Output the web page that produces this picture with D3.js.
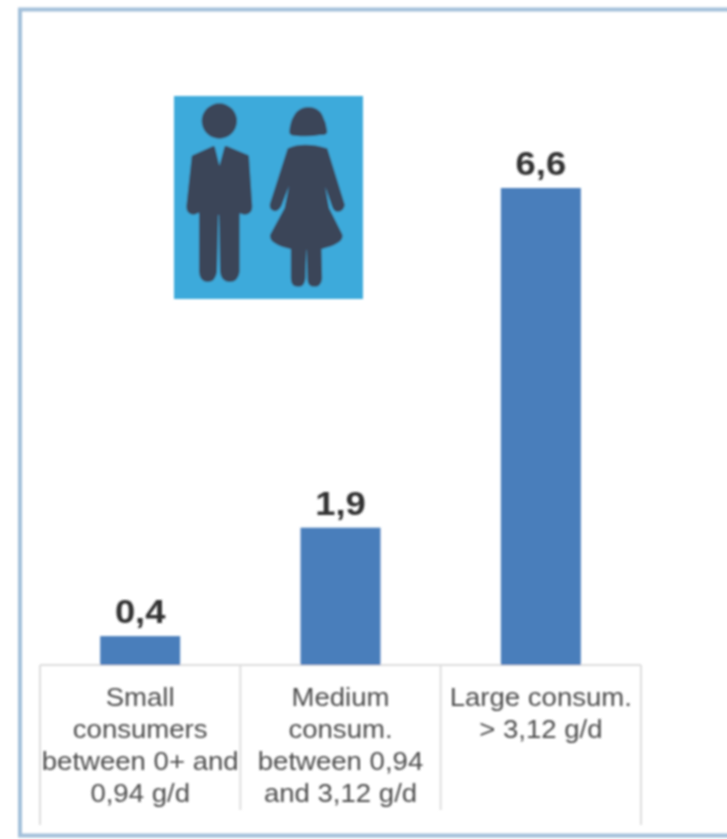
<!DOCTYPE html>
<html><head><meta charset="utf-8">
<script src="https://cdn.jsdelivr.net/npm/d3@7"></script>
<style>html,body{margin:0;padding:0;background:#fff}svg{display:block}
text{font-family:"Liberation Sans",Arial,sans-serif}</style></head>
<body><div id="chart"></div>
<script>
const categories = ["small","medium","large"];
const values = [0.4, 1.9, 6.6];
const valueLabels = ["0,4","1,9","6,6"];
const categoryLines = [
  ["Small","consumers","between 0+ and","0,94 g/d"],
  ["Medium","consum.","between 0,94","and 3,12 g/d"],
  ["Large consum.","> 3,12 g/d"]
];
const W=727,H=839;
const svg=d3.select("#chart").append("svg").attr("width",W).attr("height",H);
const defs=svg.append("defs");
defs.append("filter").attr("id","soft").attr("x","-5%").attr("y","-5%").attr("width","110%").attr("height","110%")
  .append("feGaussianBlur").attr("stdDeviation",0.8);
const root=svg.append("g").attr("filter","url(#soft)");

// outer frame
root.append("path").attr("d","M730,9.5 H20 V835.5 H730").attr("fill","none").attr("stroke","#a3c0da").attr("stroke-width",4);

const x=d3.scaleBand().domain(categories).range([40,641]).paddingInner(0).paddingOuter(0);
const y=d3.scaleLinear().domain([0,6.6]).range([665,188]);
const barW=80;
const cx=c=>x(c)+x.bandwidth()/2;

// axis table
const grid=root.append("g").attr("stroke","#dedede").attr("stroke-width",2).attr("fill","none");
grid.append("line").attr("x1",x.range()[0]).attr("x2",x.range()[1]).attr("y1",y(0)).attr("y2",y(0));
const ticks=[0,1,2,3];
ticks.forEach(i=>{
  const px=x.range()[0]+i*x.step();
  const outer=i===0||i===3;
  grid.append("line").attr("x1",px).attr("x2",px).attr("y1",y(0)).attr("y2",outer?825:810);
});

// bars
root.selectAll("rect.bar").data(values).join("rect").attr("class","bar")
  .attr("x",(d,i)=>cx(categories[i])-barW/2)
  .attr("width",barW)
  .attr("y",d=>y(d))
  .attr("height",d=>y(0)-y(d))
  .attr("fill","#4a7ebb");

// value labels
root.selectAll("text.val").data(values).join("text").attr("class","val")
  .attr("transform",(d,i)=>`translate(${cx(categories[i])},${y(d)-13}) scale(1.07,1)`)
  .attr("text-anchor","middle")
  .attr("font-weight","bold").attr("font-size",34).attr("fill","#333")
  .text((d,i)=>valueLabels[i]);

// category labels
categoryLines.forEach((lines,i)=>{
  const t=root.append("text").attr("text-anchor","middle").attr("font-size",26).attr("fill","#4d4d4d")
    .attr("transform",`translate(${cx(categories[i])},0) scale(1.06,1)`);
  lines.forEach((l,j)=>{
    t.append("tspan").attr("x",0).attr("y",706+j*32).text(l);
  });
});

// icon (drawn in zoomed-crop units)
root.append("rect").attr("x",174).attr("y",96).attr("width",189).attr("height",203).attr("fill","#3daadb");
const ic=root.append("g").attr("transform","translate(160,85) scale(0.3333)").attr("fill","#3b4558");
ic.append("circle").attr("cx",178).attr("cy",108).attr("r",53);
ic.append("path").attr("stroke","#3b4558").attr("stroke-width",10).attr("stroke-linejoin","round")
  .attr("d","M100,215 L160,188 L178,262 L198,188 L262,215 L272,365 Q272,382 255,384 Q240,384 234,370 L234,560 Q230,586 208,586 Q188,586 185,560 L182,385 L170,385 L166,560 Q162,586 142,586 Q124,586 122,560 L122,370 Q112,384 100,384 Q84,382 84,365 Z");
ic.append("path").attr("d","M388,140 Q390,110 403,90 Q418,66 445,66 Q474,66 487,90 Q500,115 502,140 Q500,152 480,150 Q445,157 405,152 Q388,152 388,140 Z");
ic.append("path").attr("stroke","#3b4558").attr("stroke-width",5).attr("stroke-linejoin","round")
  .attr("d","M385,192 Q430,172 500,192 L552,360 Q548,378 532,378 Q522,376 518,362 L487,272 L505,370 L545,450 Q550,475 482,490 L484,580 Q482,603 462,603 Q444,603 445,580 L442,492 L436,492 L434,580 Q432,603 414,603 Q395,603 395,580 L395,490 Q328,475 333,450 L376,370 L396,272 L362,362 Q355,376 345,376 Q330,374 332,358 Z");
</script></body></html>
